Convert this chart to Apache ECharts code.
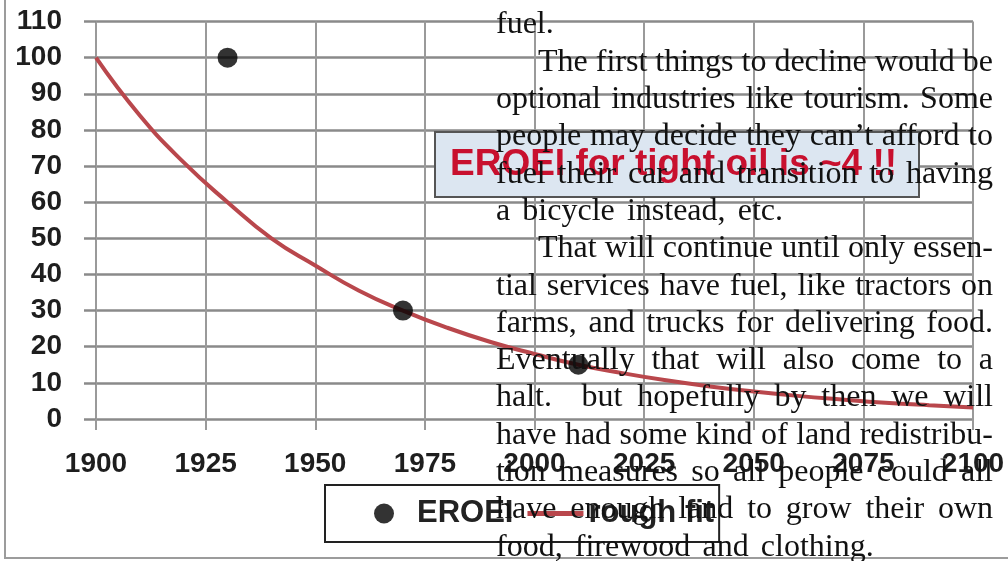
<!DOCTYPE html>
<html>
<head>
<meta charset="utf-8">
<script src="https://cdn.jsdelivr.net/npm/echarts/dist/echarts.min.js"></script>
<style>
html,body{margin:0;padding:0;background:#fff;}
#main{width:1008px;height:561px;}
</style>
</head>
<body>
<div id="main"></div>
<script>
// 数据
var fitYears = [1900,1910,1920,1930,1940,1950,1960,1970,1980,1990,2000,2010,2020,2030,2040,2050,2060,2070,2080,2090,2100];
var fitValues = [100,84,71,60,50,42.5,35.5,30,25.3,21.3,18,15,12.7,10.7,9,7.6,6.4,5.4,4.5,3.8,3.2];
var pointYears = [1930,1970,2010];
var pointValues = [100,30,15];
var seriesNames = ['EROEI','rough fit'];
var titleText = 'EROEI for tight oil is ~4 !!';

// 叠加的文字 (行, 是否两端对齐, 是否缩进)
var pageLines = [
  ['fuel.', false, false],
  ['The first things to decline would be', true, true],
  ['optional industries like tourism. Some', true, false],
  ['people may decide they can\u2019t afford to', true, false],
  ['fuel their car and transition to having', true, false],
  ['a bicycle instead, etc.', false, false],
  ['That will continue until only essen-', true, true],
  ['tial services have fuel, like tractors on', true, false],
  ['farms, and trucks for delivering food.', true, false],
  ['Eventually that will also come to a', true, false],
  ['halt.  but hopefully by then we will', true, false],
  ['have had some kind of land redistribu-', true, false],
  ['tion measures so all people could all', true, false],
  ['have enough land to grow their own', true, false],
  ['food, firewood and clothing.', false, false]
];

function pairs(xs, ys) {
  var out = [];
  for (var i = 0; i < xs.length; i++) {
    out.push([xs[i], ys[i]]);
  }
  return out;
}

var serifSize = 32;
var serifFont = serifSize + 'px "Liberation Serif"';
var measure = document.createElement('canvas').getContext('2d');
measure.font = serifFont;

function buildText() {
  var els = [];
  var left = 496, right = 993, indent = 42;
  for (var i = 0; i < pageLines.length; i++) {
    var line = pageLines[i][0];
    var x0 = left + (pageLines[i][2] ? indent : 0);
    var yMid = 33 + 37.3 * i - 8;
    var words = line.split(' ').filter(function (w) { return w.length; });
    var total = 0;
    var widths = [];
    for (var j = 0; j < words.length; j++) {
      widths.push(measure.measureText(words[j]).width);
      total += widths[j];
    }
    // 句号后多一点空
    var extra = line.indexOf('.  ') >= 0 ? 1 : 0;
    var gap = serifSize * 0.38;
    if (pageLines[i][1] && words.length > 1) {
      gap = (right - x0 - total) / (words.length - 1 + extra);
    }
    var x = x0;
    for (var k = 0; k < words.length; k++) {
      els.push({type: 'text', z: 100, style: {text: words[k], x: x, y: yMid, font: serifFont, fill: '#111', verticalAlign: 'middle'}});
      x += widths[k] + gap;
      if (extra && k == 0) x += gap;
    }
  }
  return els;
}

var myChart = echarts.init(document.getElementById('main'));
var labelFont = {fontFamily: 'Liberation Sans', fontWeight: 'bold', fontSize: 28, color: '#1e1e1e'};

var graphics = [
  {type: 'rect', z: 0, silent: true, shape: {x: 5, y: -10, width: 1020, height: 568},
   style: {fill: 'none', stroke: '#9c9c9c', lineWidth: 2}}
].concat(buildText());

option = {
  animation: false,
  title: {
    text: titleText,
    left: 435, top: 132,
    padding: [13, 22, 13, 15],
    backgroundColor: '#dce6f1',
    borderColor: '#555',
    borderWidth: 2,
    textStyle: {fontFamily: 'Liberation Sans', fontWeight: 'bold', fontSize: 37, lineHeight: 39, color: '#c8102e'}
  },
  legend: {
    left: 325, top: 485,
    padding: [13, 5, 13, 49],
    itemWidth: 56, itemHeight: 20, itemGap: 14,
    borderColor: '#222', borderWidth: 2,
    backgroundColor: '#fff',
    data: [
      {name: seriesNames[0], icon: 'circle'},
      {name: seriesNames[1], icon: 'path://M0,0L56,0L56,5L0,5Z'}
    ],
    textStyle: {fontFamily: 'Liberation Sans', fontWeight: 'bold', fontSize: 31, color: '#222'}
  },
  grid: {left: 96, right: 35, top: 21.5, bottom: 142, containLabel: false},
  xAxis: {
    type: 'value', min: 1900, max: 2100, interval: 25,
    axisLine: {show: false},
    axisTick: {show: true, length: 11, lineStyle: {color: '#9a9a9a', width: 2}},
    splitLine: {show: true, lineStyle: {color: '#9a9a9a', width: 2}},
    axisLabel: Object.assign({margin: 31, formatter: function (v) { return String(v); }}, labelFont)
  },
  yAxis: {
    type: 'value', min: 0, max: 110, interval: 10,
    axisLine: {show: false},
    axisTick: {show: true, length: 12, lineStyle: {color: '#8a8a8a', width: 2.5}},
    splitLine: {show: true, lineStyle: {color: '#8a8a8a', width: 2.5}},
    axisLabel: Object.assign({margin: 34}, labelFont)
  },
  graphic: graphics,
  series: [
    {
      name: seriesNames[1],
      type: 'line',
      smooth: true,
      symbol: 'none',
      z: 3,
      lineStyle: {color: '#b9474c', width: 4},
      itemStyle: {color: '#b9474c'},
      data: pairs(fitYears, fitValues)
    },
    {
      name: seriesNames[0],
      type: 'scatter',
      symbol: 'circle',
      symbolSize: 20,
      z: 4,
      itemStyle: {color: '#000'},
      data: pairs(pointYears, pointValues)
    }
  ]
};

if (option && typeof option === "object") {
  myChart.setOption(option, true);
}
</script>
</body>
</html>
